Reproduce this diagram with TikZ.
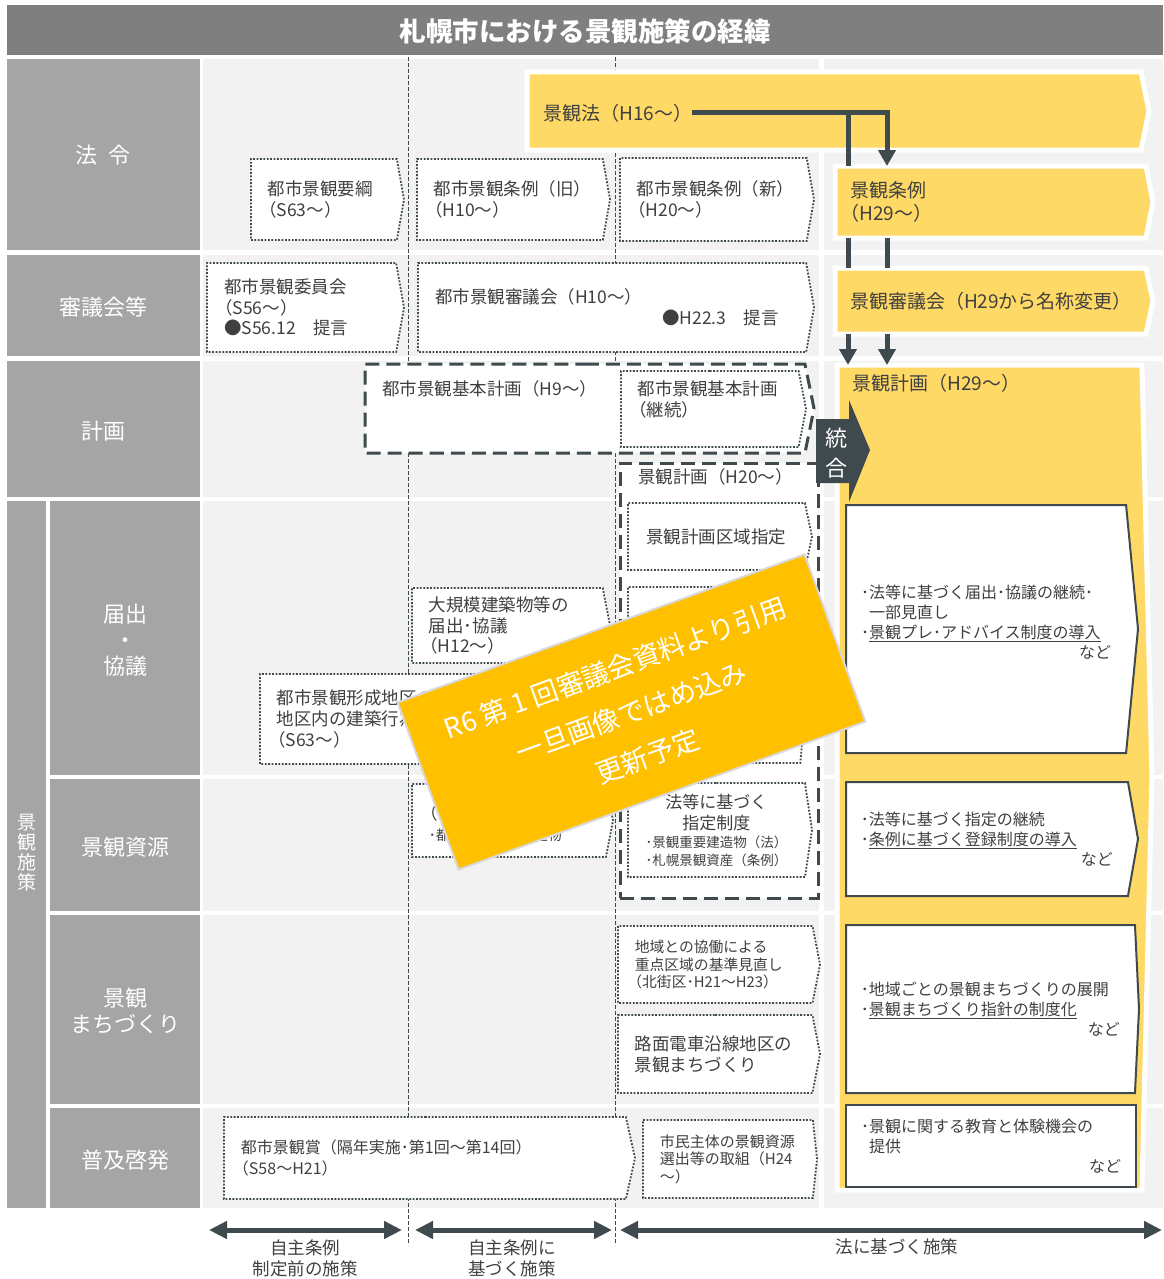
\documentclass[tikz,border=0pt]{standalone}
\usepackage{fontspec}
\setmainfont{Noto Sans CJK JP}
\usepackage{xcolor}
\usetikzlibrary{arrows.meta, calc, shapes.symbols}

\definecolor{titlegray}{HTML}{7F7F7F}
\definecolor{hdrgray}{HTML}{A5A5A5}
\definecolor{cellgray}{HTML}{F2F2F2}
\definecolor{keyyellow}{HTML}{FFD966}
\definecolor{darkline}{HTML}{3E4A4E}
\definecolor{txtgray}{HTML}{404040}
\definecolor{noteorange}{HTML}{FFC000}

% opening bracket at the start of a line
\newcommand\lpar{\hspace*{-0.5em}（}

\tikzset{
  hdrtext/.style={text=white, align=center, inner sep=0pt, font=\fontsize{22}{26}\selectfont},
  era/.style={darkline, line width=0.8pt, dash pattern=on 4pt off 2pt},
  tagbox/.style={shape=signal, signal to=east, anchor=north west, inner sep=0pt, outer sep=0pt,
    text=txtgray, align=left, font=\fontsize{17.5}{21}\selectfont},
  dotbox/.style={tagbox, draw=darkline, fill=white, line width=1.8pt, dash pattern=on 1.8pt off 1.6pt},
  dashline/.style={draw=darkline, fill=white, line width=3pt, dash pattern=on 14pt off 7pt},
  ybox/.style={tagbox, fill=keyyellow, draw=white, line width=5pt, font=\fontsize{19}{23}\selectfont},
  wbox/.style={tagbox, fill=white, draw=darkline, line width=2pt, font=\fontsize{16}{20}\selectfont},
  lbl/.style={text=txtgray, inner sep=0pt, anchor=west, font=\fontsize{17.5}{21}\selectfont},
  conn/.style={darkline, line width=5pt},
  headarrow/.style={-{Triangle[width=17pt,length=16pt]}},
  eraspan/.style={darkline, line width=5pt, {Triangle[width=17pt,length=18pt]}-{Triangle[width=17pt,length=18pt]}},
  bottomtxt/.style={text=txtgray, align=center, inner sep=0pt, font=\fontsize{17.5}{21}\selectfont},
}

\begin{document}
\begin{tikzpicture}[x=1pt, y=-1pt]
  \useasboundingbox (0,0) rectangle (1163,1279);

  % title bar
  \fill[titlegray] (7,5) rectangle (1163,55);
  \node[text=white, font=\fontsize{26.5}{30}\selectfont\bfseries] (title) at (585,31) {札幌市における景観施策の経緯};

  % rows
  \foreach \ya/\yb in {59/250, 255/356, 361/497, 501/775, 779/911, 915/1104, 1108/1208} {
    \fill[cellgray] (203,\ya) rectangle (819,\yb);
    \fill[cellgray] (824,\ya) rectangle (1163,\yb);
  }
  \fill[hdrgray] (7,59) rectangle (200,250);
  \fill[hdrgray] (7,255) rectangle (200,356);
  \fill[hdrgray] (7,361) rectangle (200,497);
  \fill[hdrgray] (7,501) rectangle (46,1208);
  \foreach \ya/\yb in {501/775, 779/911, 915/1104, 1108/1208}
    \fill[hdrgray] (50,\ya) rectangle (200,\yb);

  \node[hdrtext] (hlaw) at (103,155) {法\hspace{12pt}令};
  \node[hdrtext] (hcouncil) at (103,307) {審議会等};
  \node[hdrtext] (hplan) at (103,431) {計画};
  \node[hdrtext, font=\fontsize{19}{20}\selectfont] (hmeasure) at (27,853) {景\\観\\施\\策};
  \node[hdrtext] (hnotify) at (125,640) {届出\\・\\協議};
  \node[hdrtext] (hres) at (125,847) {景観資源};
  \node[hdrtext] (htown) at (125,1011) {景観\\まちづくり};
  \node[hdrtext] (hedu) at (125,1160) {普及啓発};

  % era borders
  \draw[era] (408,57) -- (408,1245);
  \draw[era] (615,57) -- (615,1245);

  % law / council rows
  \node[dotbox, minimum width=153, minimum height=81, signal pointer angle=160, text width=112] (yoko) at (251,159) {都市景観要綱\\\lpar S63～）};
  \node[dotbox, minimum width=193, minimum height=81, signal pointer angle=160, text width=152] (joreiold) at (417,159) {都市景観条例（旧）\\\lpar H10～）};
  \node[dotbox, minimum width=194, minimum height=83, signal pointer angle=160, text width=153] (joreinew) at (620,158) {都市景観条例（新）\\\lpar H20～）};
  \node[dotbox, minimum width=197, minimum height=89, signal pointer angle=160, text width=155, font=\fontsize{17.5}{20.5}\selectfont] (iinkai) at (207,263) {都市景観委員会\\\lpar S56～）\\●S56.12　提言};
  \node[dotbox, minimum width=396, minimum height=89, signal pointer angle=160, text width=354] (shinold) at (418,263) {都市景観審議会（H10～）\\\hspace*{227pt}●H22.3　提言};

  % plan row
  \node[dashline, shape=signal, signal to=east, anchor=north west, inner sep=0pt, outer sep=0pt, minimum width=449, minimum height=89, signal pointer angle=157] (kihon) at (365,364) {};
  \node[lbl] (kihontxt) at (382,389) {都市景観基本計画（H9～）};
  \node[dotbox, minimum width=185, minimum height=76, signal pointer angle=158, text width=144] (kihoncont) at (621,371) {都市景観基本計画\\\lpar 継続）\\\mbox{}};

  \node[dashline, anchor=north west, inner sep=0pt, outer sep=0pt, minimum width=198, minimum height=435] (plan20) at (620,463) {};
  \node[lbl] (plan20txt) at (638,477) {景観計画（H20～）};
  \node[dotbox, minimum width=184, minimum height=67, signal pointer angle=156, align=center, text width=150] (kuiki) at (628,503) {景観計画区域指定};
  \node[dotbox, minimum width=180, minimum height=176, signal pointer angle=170] (plan20mid) at (628,587) {};
  \node[dotbox, minimum width=184, minimum height=94, signal pointer angle=163, align=center, text width=150, font=\fontsize{17}{21}\selectfont] (shitei) at (628,783)
    {法等に基づく\\指定制度\\[-3pt]{\fontsize{13.5}{18}\selectfont ･景観重要建造物（法）}\\[-3pt]{\fontsize{13.5}{18}\selectfont ･札幌景観資産（条例）}};

  % notification / resources
  \node[dotbox, minimum width=198, minimum height=75, signal pointer angle=158, text width=157, font=\fontsize{17.5}{20.5}\selectfont] (daikibo) at (412,588) {大規模建築物等の\\届出･協議\\\lpar H12～）};
  \node[dotbox, minimum width=352, minimum height=90, signal pointer angle=162, text width=311] (keisei) at (260,674) {都市景観形成地区の\\地区内の建築行為\\\lpar S63～）};
  \node[dotbox, minimum width=201, minimum height=73, signal pointer angle=158, text width=160] (juyo) at (412,784) {\mbox{}\\\lpar\\{\fontsize{14}{18}\selectfont ･都市景観重要建造物}};

  % town / education
  \node[dotbox, minimum width=202, minimum height=77, signal pointer angle=158, text width=161, font=\fontsize{14.8}{17.5}\selectfont] (kyodo) at (618,926) {地域との協働による\\重点区域の基準見直し\\\lpar 北街区･H21～H23）};
  \node[dotbox, minimum width=202, minimum height=78, signal pointer angle=158, text width=161] (romen) at (618,1015) {路面電車沿線地区の\\景観まちづくり};
  \node[dotbox, minimum width=411, minimum height=82, signal pointer angle=155, text width=368, font=\fontsize{16}{21}\selectfont] (award) at (224,1117) {都市景観賞（隔年実施･第1回～第14回）\\\lpar S58～H21）};
  \node[dotbox, minimum width=174, minimum height=78, signal pointer angle=168, text width=136, font=\fontsize{15}{17.5}\selectfont] (shimin) at (643,1120) {市民主体の景観資源\\選出等の取組（H24\\～）};

  % law based
  \node[ybox, minimum width=622, minimum height=78, signal pointer angle=157] (law) at (527,72) {};
  \node[lbl, font=\fontsize{19}{23}\selectfont] (lawtxt) at (543,113) {景観法（H16～）};
  \node[ybox, minimum width=318, minimum height=72, signal pointer angle=158, text width=281] (jorei) at (835,166) {景観条例\\\lpar H29～）};
  \node[ybox, minimum width=318, minimum height=66, signal pointer angle=156, text width=281] (council) at (835,268) {景観審議会（H29から名称変更）};
  \node[ybox, minimum width=315, minimum height=825, signal pointer angle=177.2] (plan) at (837,365) {};
  \node[lbl, font=\fontsize{19}{23}\selectfont] (plantxt) at (852,383) {景観計画（H29～）};

  \node[wbox, minimum width=292, minimum height=248, signal pointer angle=169, text width=250] (wnotify) at (846,505)
    {･法等に基づく届出･協議の継続･\\\hspace*{8pt}一部見直し\\･\underline{景観プレ･アドバイス制度の導入}\\\hspace*{\fill}など\\[-6pt]\mbox{}};
  \node[wbox, minimum width=292, minimum height=114, signal pointer angle=160, text width=252] (wres) at (846,782)
    {･法等に基づく指定の継続\\･\underline{条例に基づく登録制度の導入}\\\hspace*{\fill}など};
  \node[wbox, minimum width=293, minimum height=168, signal pointer angle=174.5, text width=259] (wtown) at (846,925)
    {･地域ごとの景観まちづくりの展開\\･\underline{景観まちづくり指針の制度化}\\\hspace*{\fill}など};
  \node[wbox, shape=rectangle, minimum width=290, minimum height=82, text width=260] (wedu) at (846,1105)
    {･景観に関する教育と体験機会の\\\hspace*{8pt}提供\\\hspace*{\fill}など};

  % merge arrow
  \fill[darkline] (816,419) -- (849,419) -- (849,400) -- (870,450) -- (849,502) -- (849,483) -- (816,483) -- cycle;
  \node[text=white, align=center, inner sep=0pt, font=\fontsize{22}{30}\selectfont] (merge) at (836,453) {統\\合};

  % connectors
  \coordinate (b1) at (848,113);
  \coordinate (b2) at (887,113);
  \draw[conn, headarrow] (lawtxt.east) -- (b2) -- (b2 |- jorei.north);
  \draw[conn] (b1) -- (b1 |- jorei.north);
  \draw[conn] (b1 |- jorei.south) -- (b1 |- council.north);
  \draw[conn] (b2 |- jorei.south) -- (b2 |- council.north);
  \draw[conn, headarrow] (b1 |- council.south) -- (b1 |- plan.north);
  \draw[conn, headarrow] (b2 |- council.south) -- (b2 |- plan.north);

  % note
  \node[draw=black!15, line width=2pt, fill=noteorange, rotate=20, minimum width=433, minimum height=178,
    text=white, align=center, font=\fontsize{27}{47}\selectfont] (memo) at (631.5,712)
    {R6 第 1 回審議会資料より引用\\一旦画像ではめ込み\\更新予定};

  % periods
  \coordinate (s1) at (209,1230);
  \coordinate (s2) at (402,1230);
  \coordinate (s3) at (415,1230);
  \coordinate (s4) at (612,1230);
  \coordinate (s5) at (620,1230);
  \coordinate (s6) at (1162,1230);
  \draw[eraspan] (s1) -- (s2);
  \draw[eraspan] (s3) -- (s4);
  \draw[eraspan] (s5) -- (s6);
  \node[bottomtxt] (pre) at (305,1258) {自主条例\\制定前の施策};
  \node[bottomtxt] (own) at (512,1258) {自主条例に\\基づく施策};
  \node[bottomtxt] (lawbased) at (897,1247) {法に基づく施策};

\end{tikzpicture}
\end{document}
